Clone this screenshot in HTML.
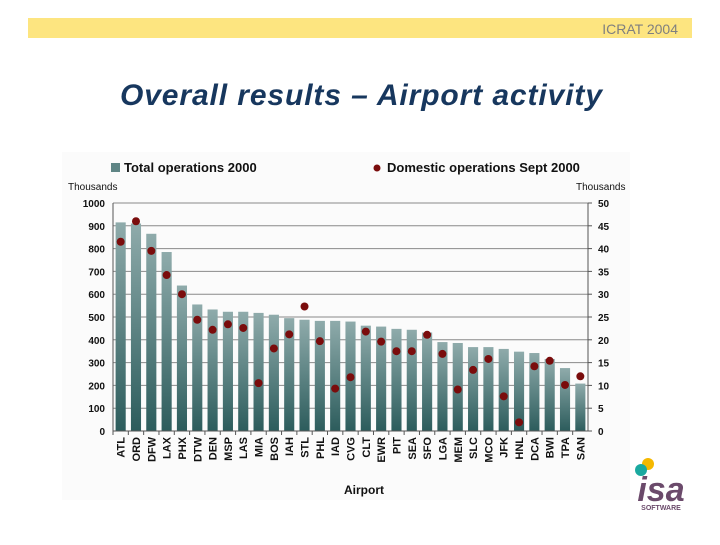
<!DOCTYPE html>
<html><head><meta charset="utf-8"><style>
body{margin:0;width:720px;height:540px;background:#fff;overflow:hidden;font-family:"Liberation Sans",Arial,sans-serif;}
svg text{font-family:"Liberation Sans",Arial,sans-serif;}
</style></head><body>
<svg id="chart" width="720" height="540" viewBox="0 0 720 540">
<defs>
<linearGradient id="barGrad" x1="0" y1="0" x2="0" y2="1">
<stop offset="0" stop-color="#8fabab"/><stop offset="1" stop-color="#2c5c5c"/>
</linearGradient>
</defs>
<rect x="28" y="18" width="664" height="20" fill="#fde580"/>
<text x="678" y="34" text-anchor="end" font-size="14" fill="#7f7f7f">ICRAT 2004</text>
<text x="361" y="105" text-anchor="middle" font-size="30" font-weight="bold" font-style="italic" fill="#17375e" textLength="482">Overall results – Airport activity</text>
<rect x="62" y="152" width="568" height="348" fill="#fbfbfb"/>
<g id="grid"></g>
<g id="bars"></g>
<g id="dots"></g>
<g id="axes"></g>
<rect x="111" y="163" width="9" height="9" fill="#5f8585"/>
<text x="124" y="172" font-size="13" font-weight="bold" fill="#111">Total operations 2000</text>
<circle cx="377" cy="168" r="3.5" fill="#7a0c0c"/>
<text x="387" y="172" font-size="13" font-weight="bold" fill="#111">Domestic operations Sept 2000</text>
<text x="68" y="190" font-size="10" fill="#111">Thousands</text>
<text x="576" y="190" font-size="10" fill="#111">Thousands</text>
<text x="364" y="494" text-anchor="middle" font-size="12" font-weight="bold" fill="#111">Airport</text>
<g>
<circle cx="648" cy="464" r="6" fill="#f5b800"/>
<circle cx="641" cy="470" r="6" fill="#1aa9a0"/>
<text x="661" y="501" text-anchor="middle" font-size="34" font-weight="bold" font-style="italic" fill="#6b4a6b" font-family="Liberation Serif, serif">isa</text>
<text x="661" y="510" text-anchor="middle" font-size="7" font-weight="bold" fill="#6b4a6b">SOFTWARE</text>
</g>
</svg>
<script>
const categories=["ATL","ORD","DFW","LAX","PHX","DTW","DEN","MSP","LAS","MIA","BOS","IAH","STL","PHL","IAD","CVG","CLT","EWR","PIT","SEA","SFO","LGA","MEM","SLC","MCO","JFK","HNL","DCA","BWI","TPA","SAN"];
const totalOps=[915,910,865,785,638,555,533,523,523,518,510,495,488,483,483,480,462,458,448,444,432,390,386,368,368,360,348,342,316,276,208];
const domesticOps=[41.5,46,39.5,34.2,30,24.4,22.2,23.4,22.6,10.5,18.1,21.2,27.3,19.7,9.3,11.8,21.8,19.6,17.5,17.5,21.1,16.9,9.1,13.4,15.8,7.6,1.9,14.2,15.4,10.1,12.0];
const leftTicks=[0,100,200,300,400,500,600,700,800,900,1000];
const rightTicks=[0,5,10,15,20,25,30,35,40,45,50];
const NS="http://www.w3.org/2000/svg";
const X0=113,X1=588,Y0=431,Y1=203;
const band=(X1-X0)/categories.length;
const xC=i=>X0+band*(i+0.5);
const yL=v=>Y0-(v/1000)*(Y0-Y1);
const yR=v=>Y0-(v/50)*(Y0-Y1);
function mk(tag,attrs,parent){const e=document.createElementNS(NS,tag);for(const k in attrs)e.setAttribute(k,attrs[k]);parent.appendChild(e);return e;}
const grid=document.getElementById('grid'),bars=document.getElementById('bars'),dots=document.getElementById('dots'),axes=document.getElementById('axes');
leftTicks.forEach((t,i)=>{
  const y=yL(t);
  if(t>0){const l=mk('line',{x1:X0,x2:X1,y1:y,y2:y,stroke:'#8a8a8a','stroke-width':1},grid);
  
  }
  const tx=mk('text',{x:X0-8,y:y+4,'text-anchor':'end','font-size':10,'font-weight':'bold',fill:'#111'},axes);tx.textContent=t;
  
  
});
rightTicks.forEach(t=>{
  const y=yR(t);
  mk('line',{x1:X1,x2:X1+4,y1:y,y2:y,stroke:'#555'},axes);
  const tx=mk('text',{x:X1+10,y:y+4,'font-size':10,'font-weight':'bold',fill:'#111'},axes);tx.textContent=t;
  
  
});
mk('line',{x1:X0,x2:X0,y1:Y1,y2:Y0,stroke:'#555'},axes);
mk('line',{x1:X1,x2:X1,y1:Y1,y2:Y0,stroke:'#555'},axes);
mk('line',{x1:X0,x2:X1,y1:Y0,y2:Y0,stroke:'#555'},axes);
categories.forEach((c,i)=>{
  const x=xC(i),bw=band*0.66,y=yL(totalOps[i]);
  const r=mk('rect',{x:x-bw/2,y:y,width:bw,height:Y0-y,fill:'url(#barGrad)'},bars);
  
  
  mk('line',{x1:X0+band*i,x2:X0+band*i,y1:Y0,y2:Y0+4,stroke:'#555'},axes);
  const d=mk('circle',{cx:x,cy:yR(domesticOps[i]),r:4,fill:'#7a0c0c'},dots);
  
  
  const t=mk('text',{x:0,y:0,'text-anchor':'end','font-size':11,'font-weight':'bold',fill:'#111',transform:`translate(${x+4},${Y0+6}) rotate(-90)`},axes);
  t.textContent=c;
  
  
});
</script>
</body></html>
